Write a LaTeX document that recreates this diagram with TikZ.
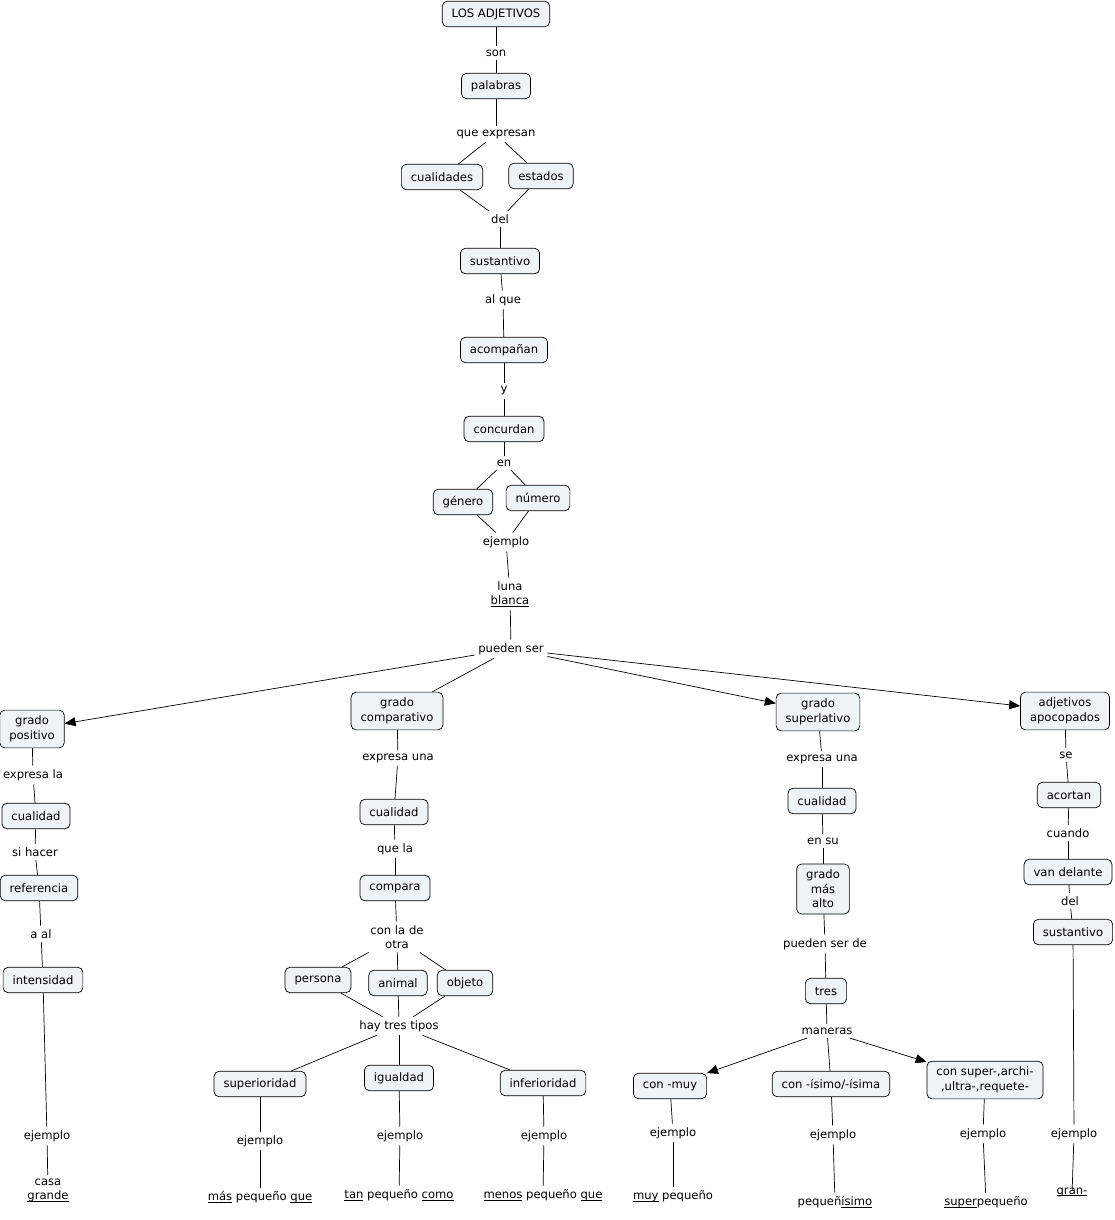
\documentclass[tikz,border=0pt]{standalone}
\usepackage{fontspec}
\setmainfont{DejaVu Sans}
\usepackage{tikz}
\usetikzlibrary{positioning, arrows.meta}
\definecolor{cmapfill}{HTML}{EEF3F5}
\newcommand{\undw}[1]{\underline{\smash{#1}}}

\begin{document}
\begin{tikzpicture}[x=1pt,y=-1pt,on grid,
  font=\fontsize{11.6}{14.5}\selectfont,
  concept/.style={draw,fill=cmapfill,rounded corners=5pt,line width=0.7pt,
    inner xsep=9.5pt,inner ysep=6pt,minimum height=25.5pt,align=center},
  link/.style={inner sep=3.5pt,align=center},
  every edge/.style={draw,line width=0.7pt},
  tip/.style={-{Triangle[length=11pt,width=9pt]}}]
 \useasboundingbox (0,0) rectangle (1115,1220);
 % tronco central
 \node[concept] (adjetivos) at (496,14) {LOS ADJETIVOS};
 \node[link] (son) [below=39pt of adjetivos] {son};
 \node[concept] (palabras) [below=33pt of son] {palabras};
 \node[link] (expresan) [below=48pt of palabras] {que expresan};
 \node[concept] (cualidades) [below left=43pt and 54pt of expresan] {cualidades};
 \node[concept] (estados) [below right=42pt and 45pt of expresan] {estados};
 \node[link] (del) [below right=42pt and 58pt of cualidades] {del};
 \node[concept] (sustantivo) [below=42pt of del] {sustantivo};
 \node[link] (alque) [below right=39pt and 3pt of sustantivo] {al que};
 \node[concept] (acompanan) [below right=50pt and 1pt of alque] {acompañan};
 \node[link] (y) [below=41pt of acompanan] {y};
 \node[concept] (concurdan) [below=38pt of y] {concurdan};
 \node[link] (en) [below=34pt of concurdan] {en};
 \node[concept] (genero) [below left=39pt and 41pt of en] {género};
 \node[concept] (numero) [below right=35pt and 34pt of en] {número};
 \node[link] (ejemplo) [below right=40pt and 43pt of genero] {ejemplo};
 \node[link] (luna) [below right=52pt and 4pt of ejemplo] {luna\\\undw{blanca}};
 \node[link] (pueden) [below right=55pt and 1pt of luna] {pueden ser};
 \node[concept] (positivo) [below left=80pt and 479pt of pueden] {grado\\positivo};
 \node[concept] (comparativo) [below left=62pt and 114pt of pueden] {grado\\comparativo};
 \node[concept] (superlativo) [below right=63pt and 307pt of pueden] {grado\\superlativo};
 \node[concept] (apocopados) [below right=62pt and 554pt of pueden] {adjetivos\\apocopados};
 % grado positivo
 \node[link] (expresala) [below right=46pt and 1pt of positivo] {expresa la};
 \node[concept] (cualidadA) [below right=41pt and 3pt of expresala] {cualidad};
 \node[link] (sihacer) [below left=36pt and 1pt of cualidadA] {si hacer};
 \node[concept] (referencia) [below right=36pt and 4pt of sihacer] {referencia};
 \node[link] (aal) [below right=46pt and 2pt of referencia] {a al};
 \node[concept] (intensidad) [below right=46pt and 2pt of aal] {intensidad};
 \node[link] (ejemploA) [below right=156pt and 4pt of intensidad] {ejemplo};
 \node[link] (casa) [below right=54pt and 1pt of ejemploA] {casa\\\undw{grande}};
 % grado comparativo
 \node[link] (expresaunaB) [below right=47pt and 1pt of comparativo] {expresa una};
 \node[concept] (cualidadB) [below left=54pt and 4pt of expresaunaB] {cualidad};
 \node[link] (quela) [below right=37pt and 1pt of cualidadB] {que la};
 \node[concept] (compara) [below=39pt of quela] {compara};
 \node[link] (conlade) [below right=49pt and 2pt of compara] {con la de\\otra};
 \node[concept] (persona) [below left=43pt and 79pt of conlade] {persona};
 \node[concept] (animal) [below right=46pt and 1pt of conlade] {animal};
 \node[concept] (objeto) [below right=46pt and 68pt of conlade] {objeto};
 \node[link] (haytres) [below right=43pt and 1pt of animal] {hay tres tipos};
 \node[concept] (superioridad) [below left=58pt and 139pt of haytres] {superioridad};
 \node[concept] (igualdad) [below=52pt of haytres] {igualdad};
 \node[concept] (inferioridad) [below right=57pt and 144pt of haytres] {inferioridad};
 \node[link] (ejemploB1) [below=57pt of superioridad] {ejemplo};
 \node[link] (mas) [below=56pt of ejemploB1] {\undw{más} pequeño \undw{que}};
 \node[link] (ejemploB2) [below right=58pt and 1pt of igualdad] {ejemplo};
 \node[link] (tan) [below left=59pt and 1pt of ejemploB2] {\undw{tan} pequeño \undw{como}};
 \node[link] (ejemploB3) [below right=53pt and 1pt of inferioridad] {ejemplo};
 \node[link] (menos) [below left=59pt and 1pt of ejemploB3] {\undw{menos} pequeño \undw{que}};
 % grado superlativo
 \node[link] (expresaunaC) [below right=47pt and 4pt of superlativo] {expresa una};
 \node[concept] (cualidadC) [below=42pt of expresaunaC] {cualidad};
 \node[link] (ensu) [below right=40pt and 1pt of cualidadC] {en su};
 \node[concept] (alto) [below=48pt of ensu] {grado\\más\\alto};
 \node[link] (puedende) [below right=55pt and 2pt of alto] {pueden ser de};
 \node[concept] (tres) [below right=47pt and 1pt of puedende] {tres};
 \node[link] (maneras) [below right=40pt and 1pt of tres] {maneras};
 \node[concept] (conmuy) [below left=55pt and 157pt of maneras] {con -muy};
 \node[concept] (conisimo) [below right=53pt and 4pt of maneras] {con -ísimo/-ísima};
 \node[concept] (consuper) [below right=49pt and 158pt of maneras] {con super-,archi-\\,ultra-,requete-};
 \node[link] (ejemploC1) [below right=47pt and 3pt of conmuy] {ejemplo};
 \node[link] (muy) [below=63pt of ejemploC1] {\undw{muy} pequeño};
 \node[link] (ejemploC2) [below right=51pt and 2pt of conisimo] {ejemplo};
 \node[link] (pequenisimo) [below right=67pt and 2pt of ejemploC2] {pequeñ\undw{ísimo}};
 \node[link] (ejemploC3) [below left=54pt and 2pt of consuper] {ejemplo};
 \node[link] (superpequeno) [below right=68pt and 3pt of ejemploC3] {\undw{super}pequeño};
 % adjetivos apocopados
 \node[link] (se) [below right=44pt and 1pt of apocopados] {se};
 \node[concept] (acortan) [below right=40pt and 3pt of se] {acortan};
 \node[link] (cuando) [below left=38pt and 1pt of acortan] {cuando};
 \node[concept] (vandelante) [below=39pt of cuando] {van delante};
 \node[link] (delD) [below right=29pt and 2pt of vandelante] {del};
 \node[concept] (sustantivoD) [below right=31pt and 3pt of delD] {sustantivo};
 \node[link] (ejemploD) [below right=202pt and 1pt of sustantivoD] {ejemplo};
 \node[link] (gran) [below left=61pt and 2pt of ejemploD] {\undw{gran-}};

  \path
  (adjetivos) edge (son)
  (son) edge (palabras)
  (palabras) edge (expresan)
  (expresan) edge (cualidades)
             edge (estados)
  (cualidades) edge (del)
  (estados) edge (del)
  (del) edge (sustantivo)
  (sustantivo) edge (alque)
  (alque) edge (acompanan)
  (acompanan) edge (y)
  (y) edge (concurdan)
  (concurdan) edge (en)
  (en) edge (genero)
       edge (numero)
  (genero) edge (ejemplo)
  (numero) edge (ejemplo)
  (ejemplo) edge (luna)
  (luna) edge (pueden)
  (pueden) edge [tip] (positivo)
           edge (comparativo)
           edge [tip] (superlativo)
           edge [tip] (apocopados);
  \path
  (positivo) edge (expresala)
  (expresala) edge (cualidadA)
  (cualidadA) edge (sihacer)
  (sihacer) edge (referencia)
  (referencia) edge (aal)
  (aal) edge (intensidad)
  (intensidad) edge (ejemploA)
  (ejemploA) edge (casa);
  \path
  (comparativo) edge (expresaunaB)
  (expresaunaB) edge (cualidadB)
  (cualidadB) edge (quela)
  (quela) edge (compara)
  (compara) edge (conlade)
  (conlade) edge (persona)
            edge (animal)
            edge (objeto)
  (persona) edge (haytres)
  (animal) edge (haytres)
  (objeto) edge (haytres)
  (haytres) edge (superioridad)
            edge (igualdad)
            edge (inferioridad)
  (superioridad) edge (ejemploB1)
  (ejemploB1) edge (mas)
  (igualdad) edge (ejemploB2)
  (ejemploB2) edge (tan)
  (inferioridad) edge (ejemploB3)
  (ejemploB3) edge (menos);
  \path
  (superlativo) edge (expresaunaC)
  (expresaunaC) edge (cualidadC)
  (cualidadC) edge (ensu)
  (ensu) edge (alto)
  (alto) edge (puedende)
  (puedende) edge (tres)
  (tres) edge (maneras)
  (maneras) edge [tip] (conmuy)
            edge (conisimo)
            edge [tip] (consuper)
  (conmuy) edge (ejemploC1)
  (ejemploC1) edge (muy)
  (conisimo) edge (ejemploC2)
  (ejemploC2) edge (pequenisimo)
  (consuper) edge (ejemploC3)
  (ejemploC3) edge (superpequeno);
  \path
  (apocopados) edge (se)
  (se) edge (acortan)
  (acortan) edge (cuando)
  (cuando) edge (vandelante)
  (vandelante) edge (delD)
  (delD) edge (sustantivoD)
  (sustantivoD) edge (ejemploD)
  (ejemploD) edge (gran);
\end{tikzpicture}
\end{document}
